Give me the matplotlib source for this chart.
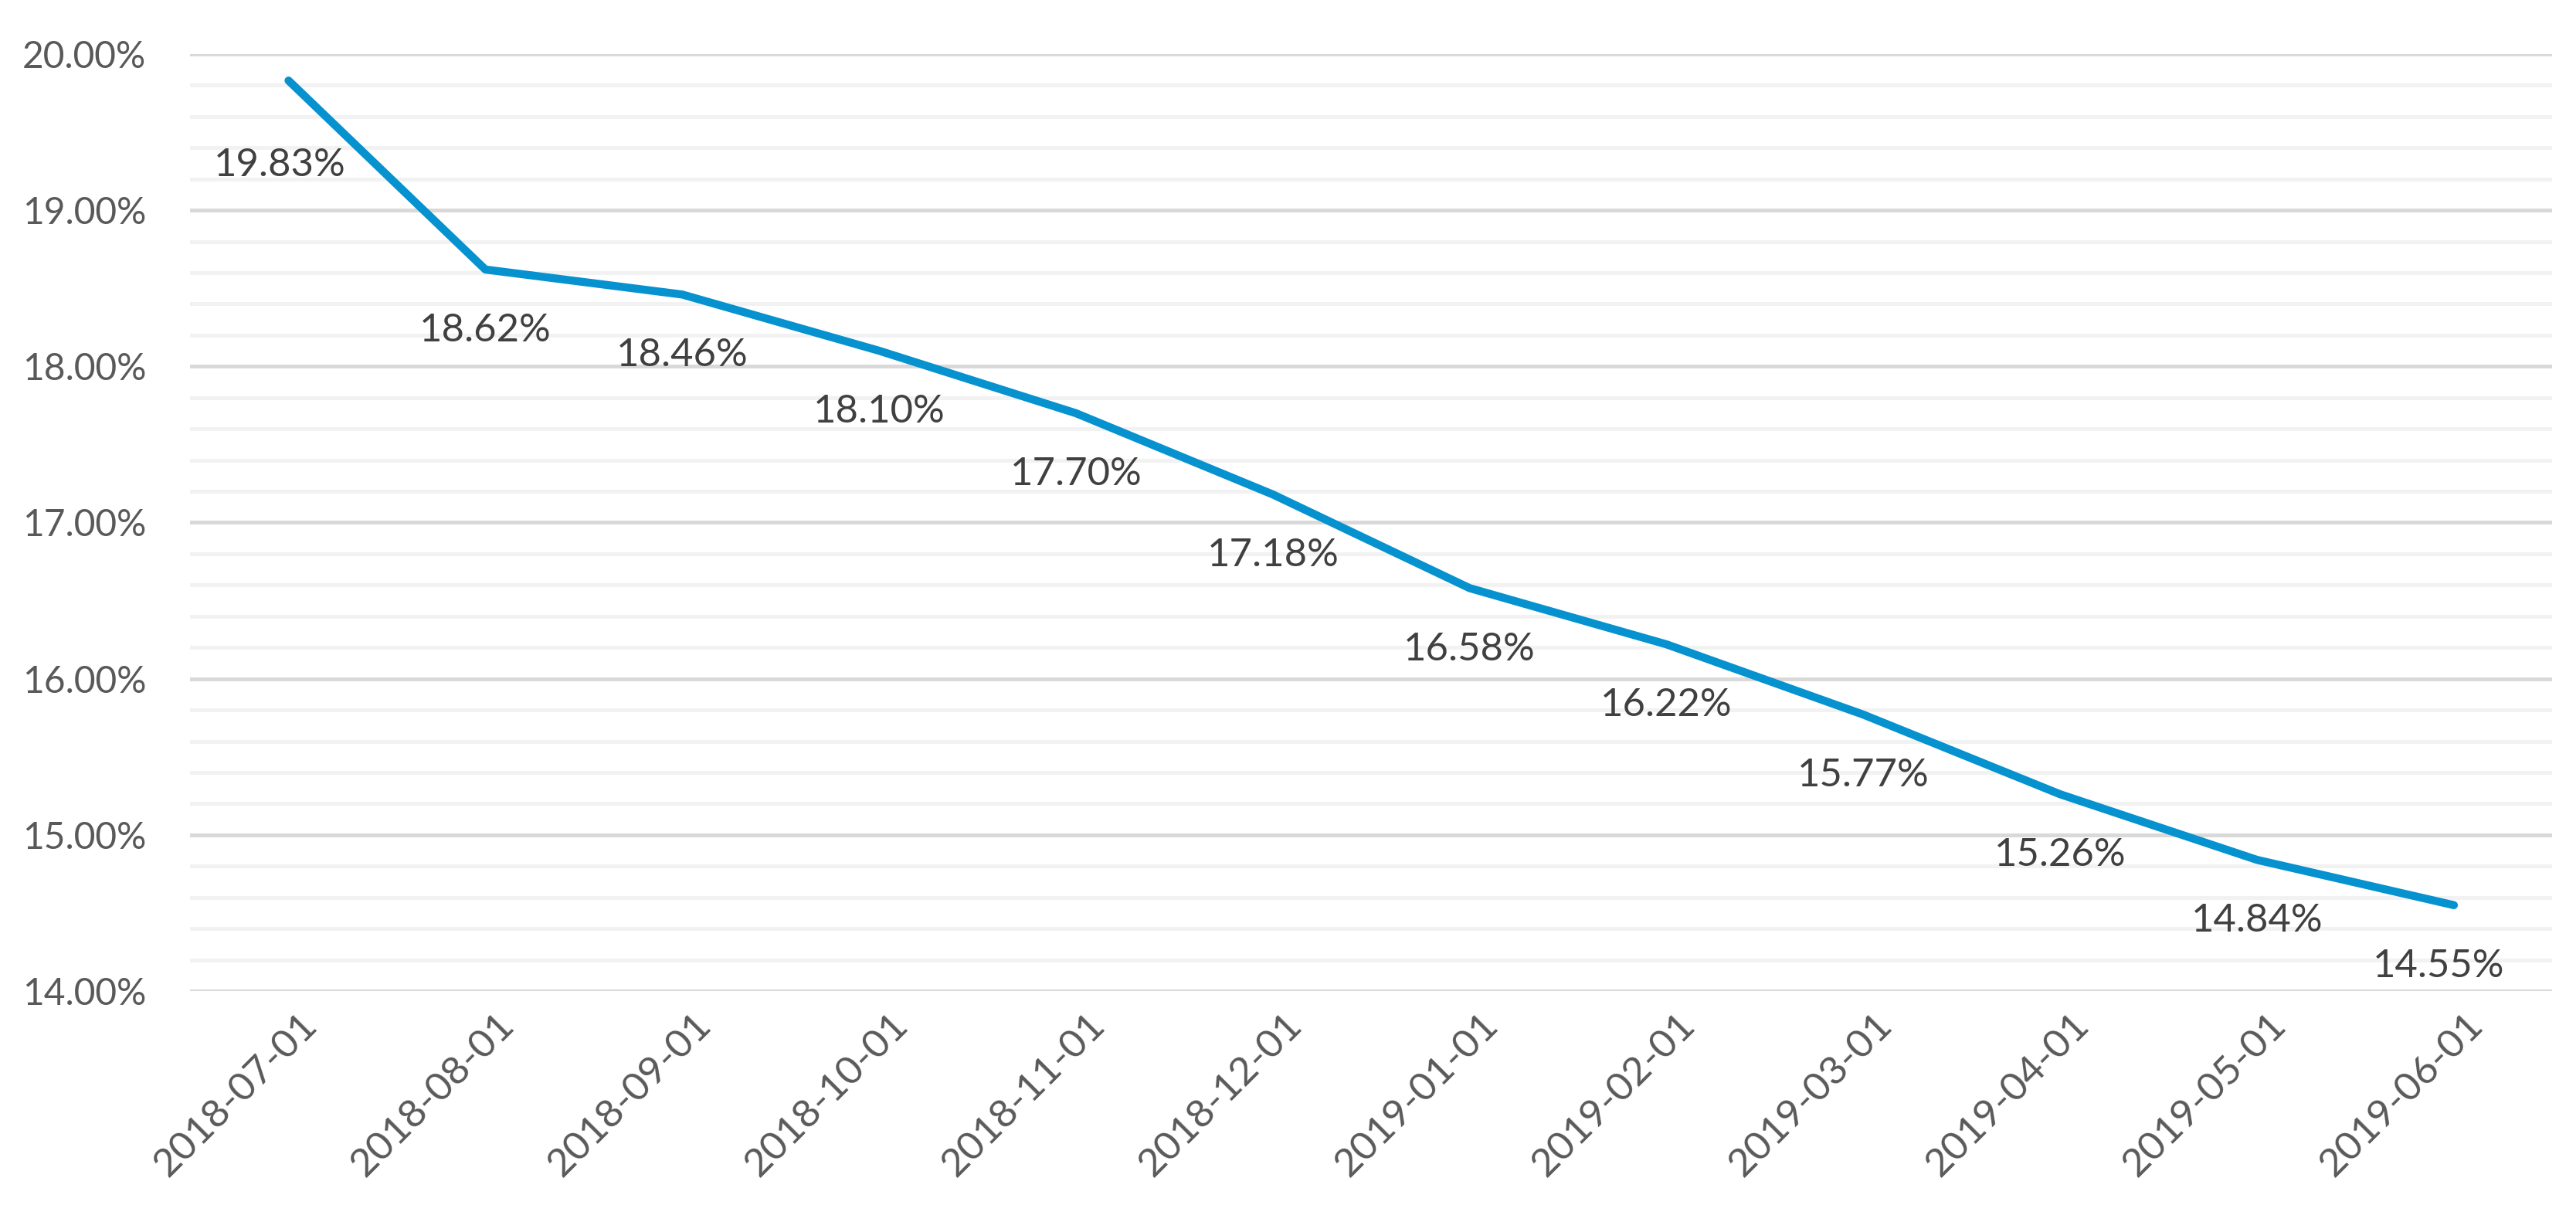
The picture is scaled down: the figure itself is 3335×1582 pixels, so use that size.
import matplotlib.pyplot as plt
import matplotlib.transforms as mtransforms
from matplotlib.ticker import MultipleLocator, FuncFormatter

# Data
months = ['2018-07-01', '2018-08-01', '2018-09-01', '2018-10-01', '2018-11-01', '2018-12-01',
          '2019-01-01', '2019-02-01', '2019-03-01', '2019-04-01', '2019-05-01', '2019-06-01']
rates = [19.83, 18.62, 18.46, 18.10, 17.70, 17.18, 16.58, 16.22, 15.77, 15.26, 14.84, 14.55]

plt.rcParams['font.family'] = ['Lato', 'DejaVu Sans']

fig = plt.figure(figsize=(33.35, 15.82), dpi=100)
axe = fig.add_axes([0.0738, 0.189, 0.917, 0.7668])

x = list(range(len(months)))
axe.plot(x, rates, color='#0592CF', linewidth=7.5, solid_capstyle='round', zorder=3)

# data labels below the points
for i, v in enumerate(rates):
    dx, dy = 0, -57
    if i == 0:
        dx, dy = -8, -79
    if i == len(rates) - 1:
        dx = -14
    axe.annotate(f'{v:.2f}%', (i, v), xytext=(dx, dy), textcoords='offset points',
                 ha='center', va='center', fontsize=36.5, color='#404040', zorder=4)

axe.set_xlim(-0.5, len(months) - 0.5)
axe.set_ylim(14, 20)
axe.yaxis.set_major_locator(MultipleLocator(1))
axe.yaxis.set_minor_locator(MultipleLocator(0.2))
axe.yaxis.set_major_formatter(FuncFormatter(lambda v, p: f'{v:.2f}%'))
axe.grid(which='minor', axis='y', color='#F2F2F2', linewidth=3.6, zorder=0)
axe.grid(which='major', axis='y', color='#D9D9D9', linewidth=3.6, zorder=1)
axe.set_axisbelow(True)

for s in axe.spines.values():
    s.set_visible(False)

axe.tick_params(axis='both', which='both', length=0)
axe.tick_params(axis='y', labelsize=34.5, labelcolor='#595959', pad=41)

axe.set_xticks(x)
axe.set_xticklabels(months, rotation=45, ha='right', va='center', rotation_mode='anchor',
                    fontsize=37, color='#595959')
offset = mtransforms.ScaledTranslation(0.3, -0.32, fig.dpi_scale_trans)
for lab in axe.get_xticklabels():
    lab.set_transform(lab.get_transform() + offset)

plt.savefig('out.png', dpi=100)
